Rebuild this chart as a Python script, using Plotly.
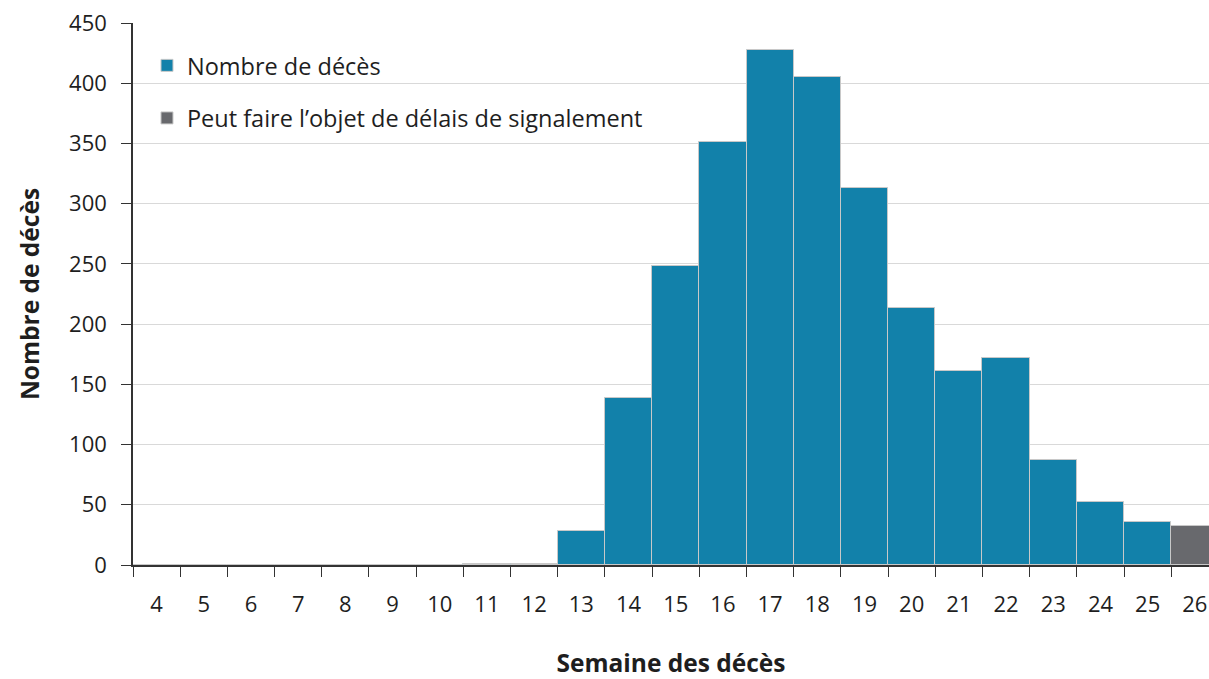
import plotly.graph_objects as go

weeks = [str(w) for w in range(4, 27)]
deaths = [0, 0, 0, 0, 0, 0, 0, 1, 1, 28, 139, 248, 351, 428, 405, 313, 213, 161, 172, 87, 52, 36, None]
delayed = [None] * 22 + [32]

BLUE = "#1281aa"
GRAY = "#68696d"
FONT = "Open Sans"

fig = go.Figure()
fig.add_trace(go.Bar(x=weeks, y=deaths, name="Nombre de décès", marker=dict(color=BLUE, line=dict(color="#c8c8c8", width=1)), legendgroup="a"))
fig.add_trace(go.Bar(x=weeks, y=delayed, name="Peut faire l’objet de délais de signalement", marker=dict(color=GRAY, line=dict(color="#c8c8c8", width=1)), legendgroup="b"))

fig.update_layout(
    width=1209, height=679,
    margin=dict(l=133, r=0, t=23, b=114),
    paper_bgcolor="white", plot_bgcolor="white",
    barmode="overlay", bargap=0,
    font=dict(family=FONT, size=22, color="#1e1e1e"),
    legend=dict(x=0.013, y=0.962, xanchor="left", yanchor="top", font=dict(size=23.5, color="#1e1e1e"),
                tracegroupgap=19, traceorder="grouped", bgcolor="rgba(255,255,255,0)"),
    xaxis=dict(type="category", range=[-0.5, 22.3], tickson="boundaries", ticks="outside", ticklen=10,
               tickcolor="#333333", showline=True, linecolor="#333333", linewidth=1.5, showgrid=False,
               automargin=False, ticklabelstandoff=19, ticklabeloverflow="allow",
               tickfont=dict(size=22), title=dict(text="<b>Semaine des décès</b>", font=dict(size=24.5), standoff=54)),
    yaxis=dict(range=[0, 450], dtick=50, ticks="outside", ticklen=10, tickcolor="#333333", showline=True,
               linecolor="#333333", linewidth=1.5, showgrid=True, gridcolor="#d9d9d9", gridwidth=1,
               zeroline=False, tickfont=dict(size=22), automargin=False, ticklabelstandoff=10,
               ticklabeloverflow="allow",
               title=dict(text="<b>Nombre de décès</b>", font=dict(size=24.5), standoff=23)),
)

# remove the page's default 8px body margin so the figure fills the window
fig.write_html("out.html", config={"displayModeBar": False},
               post_script="document.body.style.margin='0';")
